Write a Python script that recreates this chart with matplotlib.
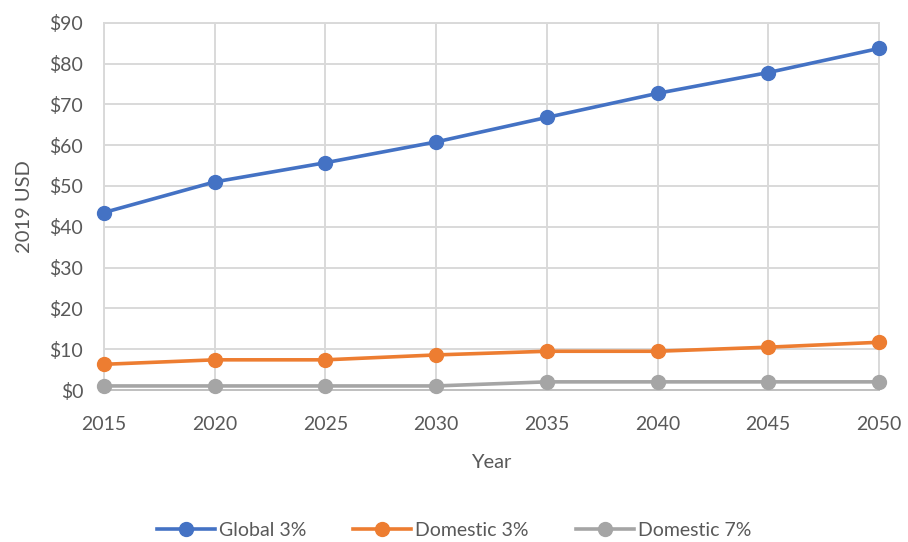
import matplotlib.pyplot as plt
from matplotlib.ticker import FuncFormatter

plt.rcParams['font.family'] = ['Lato', 'DejaVu Sans']

years = [2015, 2020, 2025, 2030, 2035, 2040, 2045, 2050]
global_3 = [43.5, 51.0, 55.7, 60.8, 66.8, 72.7, 77.8, 83.7]
domestic_3 = [6.3, 7.4, 7.4, 8.6, 9.5, 9.5, 10.5, 11.7]
domestic_7 = [1.0, 1.0, 1.0, 1.0, 2.0, 2.0, 2.0, 2.0]

series = [
    ('Global 3%', global_3, '#4472C4'),
    ('Domestic 3%', domestic_3, '#ED7D31'),
    ('Domestic 7%', domestic_7, '#A5A5A5'),
]

text_col = '#595959'
grid_col = '#D9D9D9'

fig = plt.figure(figsize=(9.08, 5.42), dpi=100)
ax = fig.add_axes([0.1145, 0.2804, 0.8535, 0.6776])

for name, vals, col in series:
    ax.plot(years, vals, color=col, linewidth=2.6, marker='o', markersize=10,
            label=name, clip_on=False, zorder=3)

ax.set_xlim(2015, 2050)
ax.set_ylim(0, 90)
ax.set_xticks(years)
ax.set_yticks(range(0, 91, 10))
ax.yaxis.set_major_formatter(FuncFormatter(lambda v, p: f'${v:.0f}'))

ax.grid(True, color=grid_col, linewidth=1.4, zorder=0)
ax.set_axisbelow(True)
for s in ax.spines.values():
    s.set_color(grid_col)
    s.set_linewidth(1.4)
ax.spines['bottom'].set_color('#BFBFBF')
ax.tick_params(length=0, labelsize=14, colors=text_col)
ax.tick_params(axis='x', pad=19)
ax.tick_params(axis='y', pad=15)

ax.set_xlabel('Year', fontsize=14.5, color=text_col, labelpad=15)
ax.set_ylabel('2019 USD', fontsize=14.5, color=text_col, labelpad=12)

leg = fig.legend(loc='center', bbox_to_anchor=(0.5, 12 / 542), ncol=3, frameon=False,
                 fontsize=14, handlelength=3.0, columnspacing=2.4, handletextpad=0.2)
for t in leg.get_texts():
    t.set_color(text_col)

fig.savefig('out.png', dpi=100)
